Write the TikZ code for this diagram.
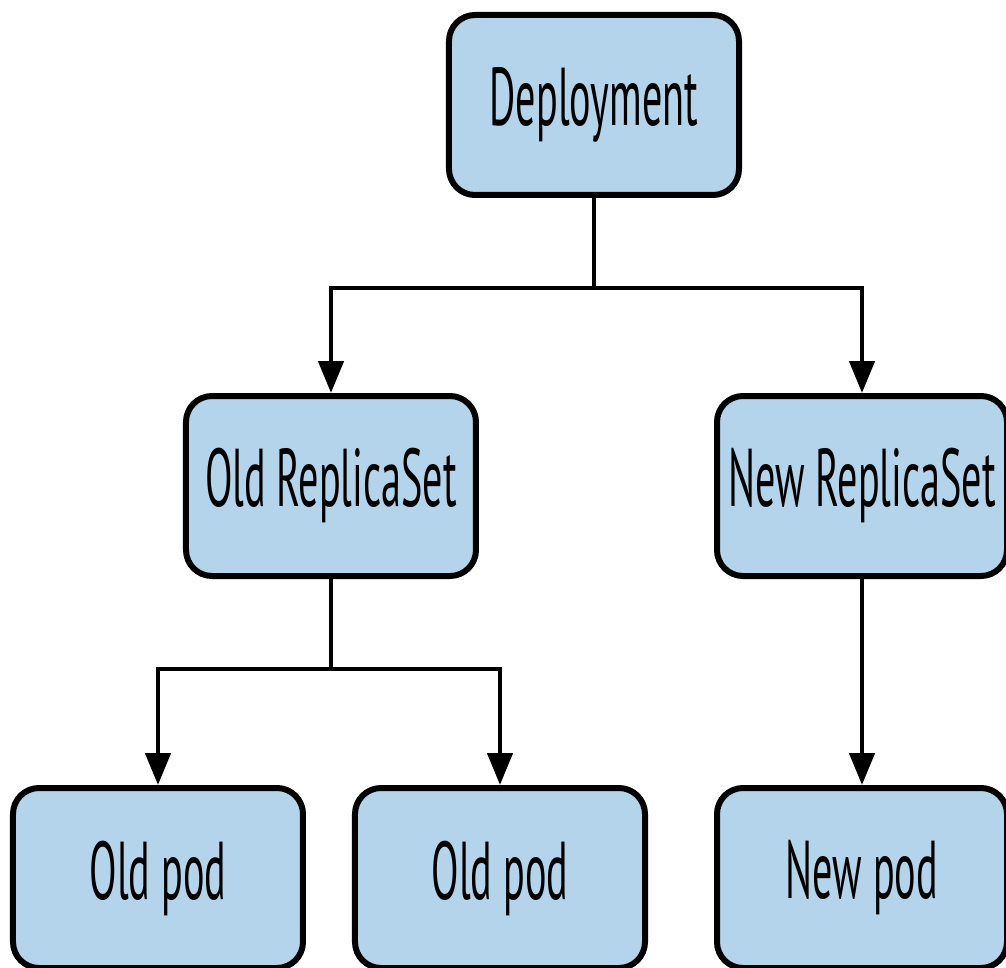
\documentclass[tikz,border=0pt]{standalone}
\usepackage{fontspec}
\setmainfont{PT Sans}[FakeStretch=0.49]
\usepackage{tikz}
\usetikzlibrary{arrows.meta,positioning,calc}
\definecolor{boxblue}{RGB}{179,212,234}

\begin{document}
\begin{tikzpicture}[>={Triangle[length=16pt,width=12.5pt]}, every node/.style={font=\fontsize{41}{43}\selectfont}]
\tikzstyle{box}=[rounded corners=13pt, draw=black, line width=3pt, fill=boxblue, minimum width=145pt, minimum height=90pt, inner sep=0pt, align=center]
\tikzstyle{link}=[line width=2.3pt, draw=black]
\useasboundingbox (-297pt,-431.5pt) rectangle (206pt,52.5pt);
% controller and its two replica sets
\node[box] (dep) {Deployment};
\node[box, below=97.5pt of dep, xshift=-131.5pt] (oldrs) {Old ReplicaSet};
\node[box, below=97.5pt of dep, xshift=134pt] (newrs) {New ReplicaSet};
% pods
\node[box, below=103pt of oldrs, xshift=-86.5pt] (oldpodA) {Old pod};
\node[box, below=103pt of oldrs, xshift=84.5pt] (oldpodB) {Old pod};
\node[box, below=103pt of newrs] (newpod) {New pod};
\coordinate (depsplit) at ($(dep.south)+(0,-45pt)$);
\coordinate (oldsplit) at ($(oldrs.south)+(0,-45pt)$);
\draw[link] (dep.south) -- (depsplit);
\draw[link,->] (depsplit) -| (oldrs.north);
\draw[link,->] (depsplit) -| (newrs.north);
\draw[link] (oldrs.south) -- (oldsplit);
\draw[link,->] (oldsplit) -| (oldpodA.north);
\draw[link,->] (oldsplit) -| (oldpodB.north);
\draw[link,->] (newrs) -- (newpod);
\end{tikzpicture}
\end{document}
